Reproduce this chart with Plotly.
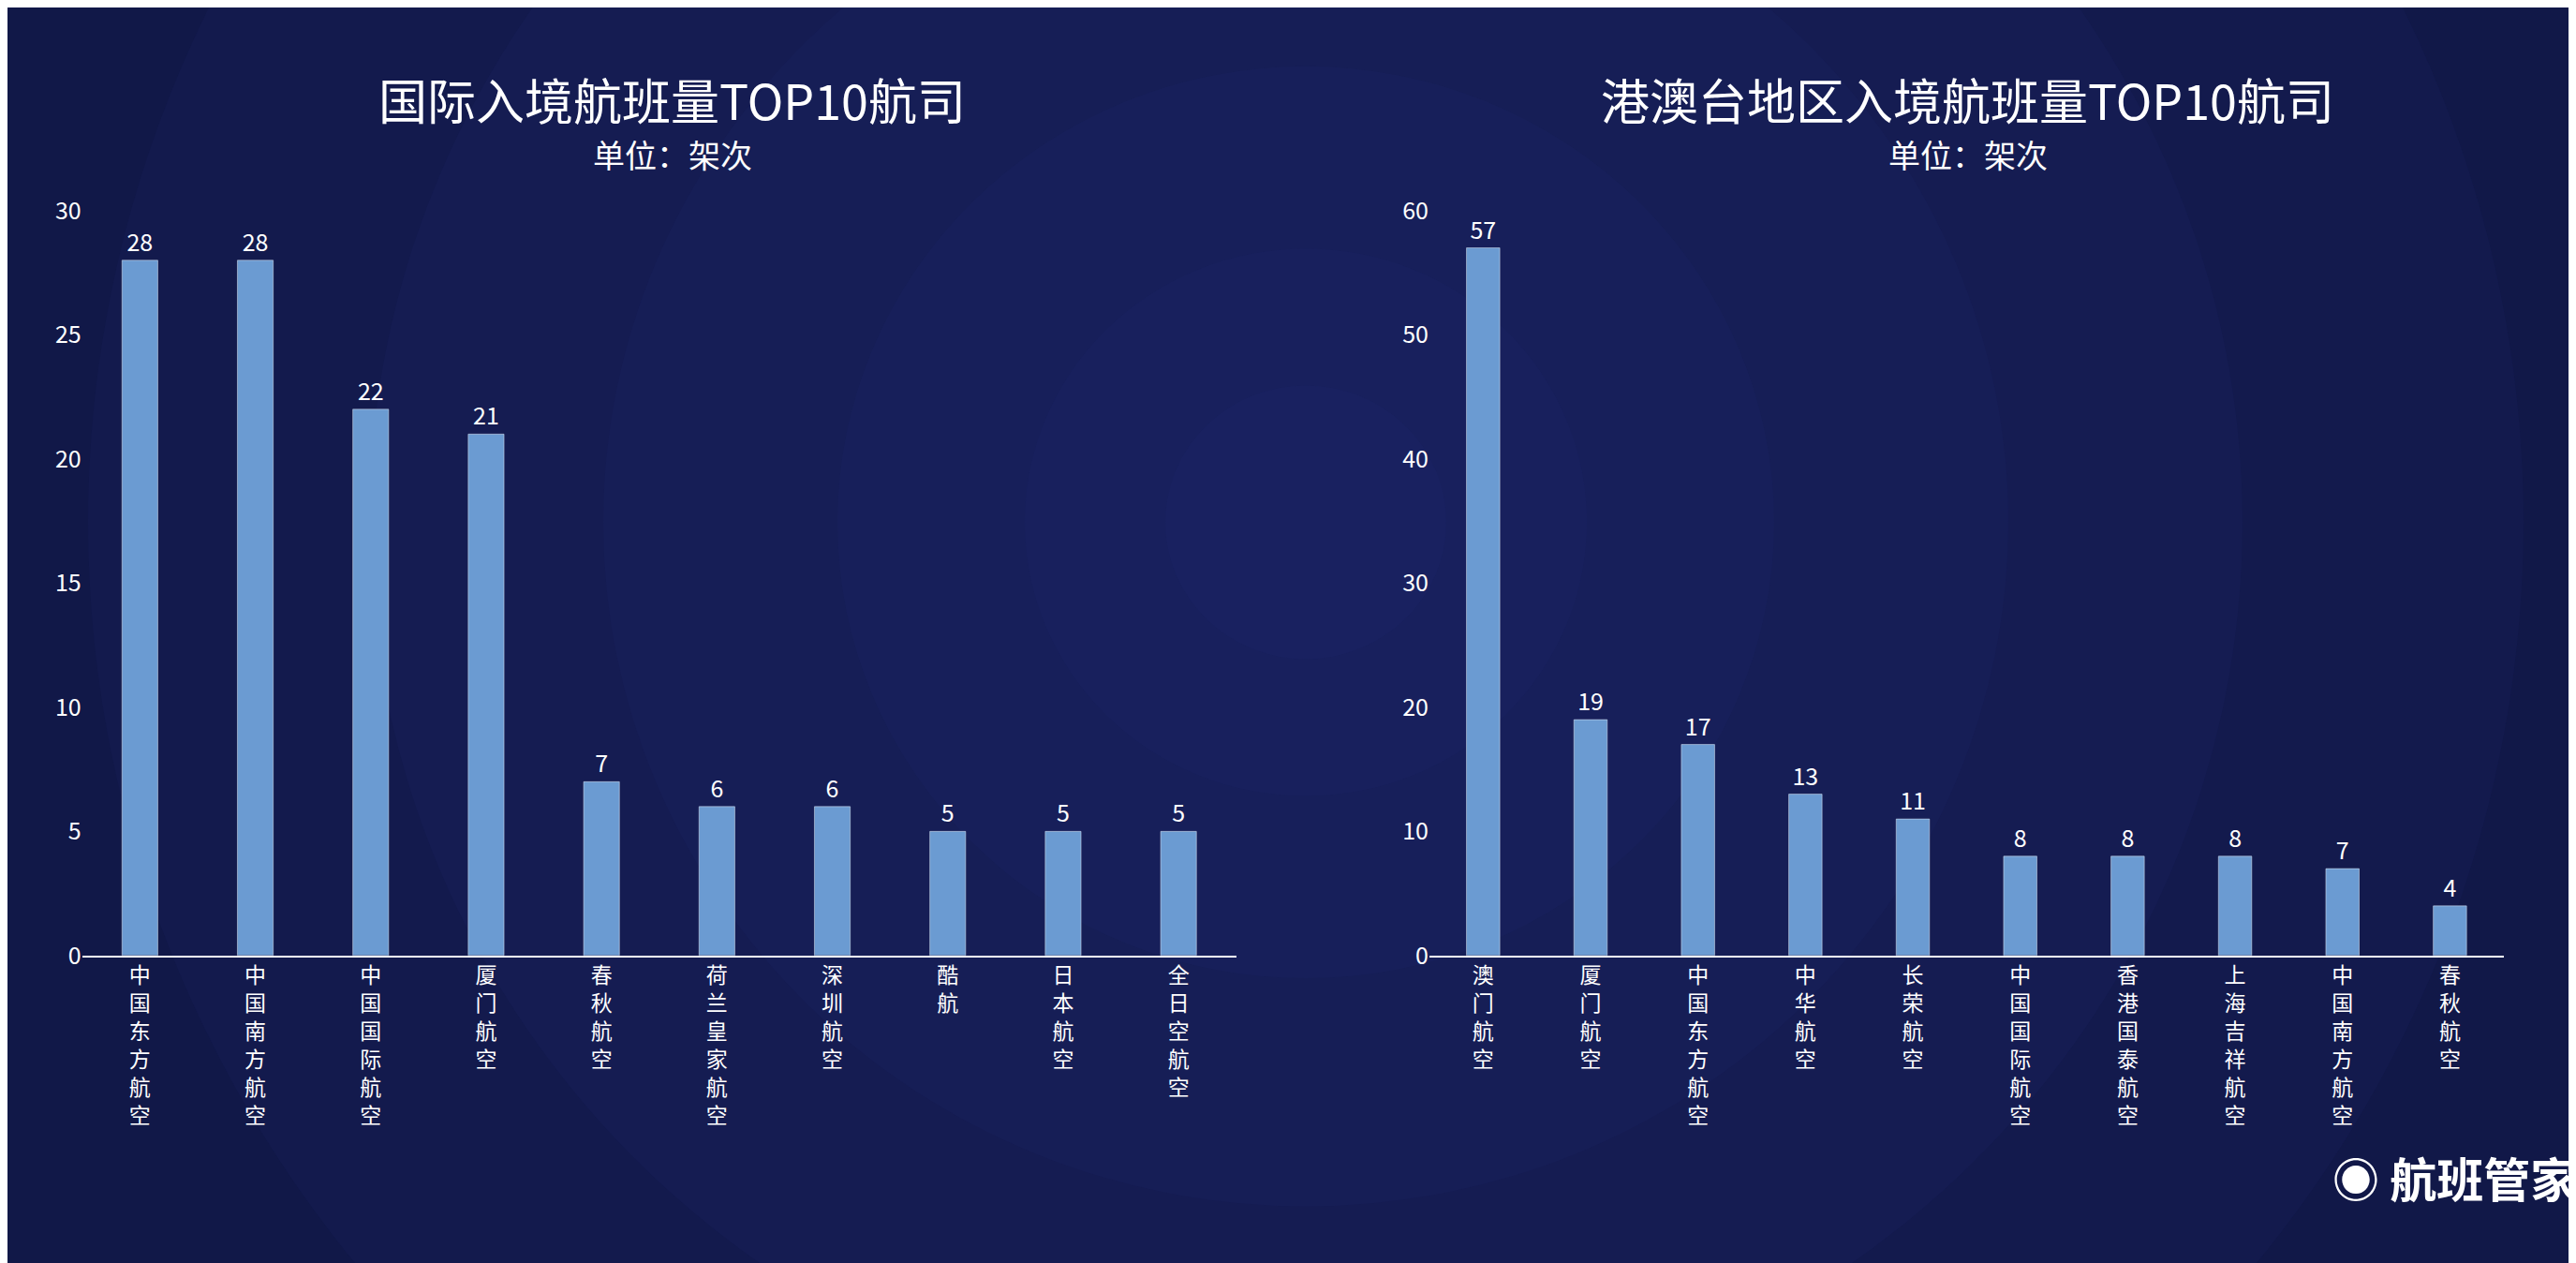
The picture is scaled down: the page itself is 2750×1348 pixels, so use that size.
import plotly.graph_objects as go

intl_airlines = ["中国东方航空", "中国南方航空", "中国国际航空", "厦门航空", "春秋航空",
                 "荷兰皇家航空", "深圳航空", "酷航", "日本航空", "全日空航空"]
intl_flights = [28, 28, 22, 21, 7, 6, 6, 5, 5, 5]

hmt_airlines = ["澳门航空", "厦门航空", "中国东方航空", "中华航空", "长荣航空",
                "中国国际航空", "香港国泰航空", "上海吉祥航空", "中国南方航空", "春秋航空"]
hmt_flights = [57, 19, 17, 13, 11, 8, 8, 8, 7, 4]

FONT = "Noto Sans CJK SC"
BAR = "#6b9bd2"


def vertical(s):
    return "<br>".join(s)


fig = go.Figure()
fig.add_trace(go.Bar(x=[vertical(a) for a in intl_airlines], y=intl_flights,
                     text=intl_flights, textposition="outside", marker_color=BAR,
                     textfont=dict(color="white", size=25), cliponaxis=False,
                     xaxis="x", yaxis="y"))
fig.add_trace(go.Bar(x=[vertical(a) for a in hmt_airlines], y=hmt_flights,
                     text=hmt_flights, textposition="outside", marker_color=BAR,
                     textfont=dict(color="white", size=25), cliponaxis=False,
                     xaxis="x2", yaxis="y2"))

axis_x = dict(showgrid=False, showline=True, linecolor="white", linewidth=2,
              tickfont=dict(color="white", size=23), ticks="", tickangle=0)
axis_y = dict(showgrid=False, zeroline=False, showline=False,
              tickfont=dict(color="white", size=25), ticks="")

# radial glow in the background
shapes = []
for r in [1300, 1000, 750, 500, 300, 150]:
    shapes.append(dict(type="circle", xref="paper", yref="paper",
                       x0=(1386 - r) / 2750, x1=(1386 + r) / 2750,
                       y0=(804 - r) / 1348, y1=(804 + r) / 1348,
                       fillcolor="rgba(35,50,130,0.10)", line_width=0, layer="below"))

fig.update_layout(
    width=2750, height=1348,
    margin=dict(l=0, r=0, t=0, b=0),
    paper_bgcolor="#111848", plot_bgcolor="rgba(0,0,0,0)",
    font=dict(family=FONT, color="white"),
    showlegend=False, bargap=0.69,
    shapes=shapes,
    xaxis=dict(domain=[0.029, 0.477], anchor="y", **axis_x),
    yaxis=dict(domain=[0.244, 0.85], range=[0, 30], dtick=5, anchor="x", **axis_y),
    xaxis2=dict(domain=[0.552, 0.969], anchor="y2", **axis_x),
    yaxis2=dict(domain=[0.244, 0.85], range=[0, 60], dtick=10, anchor="x2", **axis_y),
    annotations=[
        dict(text="国际入境航班量TOP10航司", x=0.258, y=1 - 80 / 1348, xref="paper", yref="paper",
             xanchor="center", yanchor="middle", showarrow=False, font=dict(size=52, color="white")),
        dict(text="单位：架次", x=0.258, y=1 - 140 / 1348, xref="paper", yref="paper",
             xanchor="center", yanchor="middle", showarrow=False, font=dict(size=34, color="white")),
        dict(text="港澳台地区入境航班量TOP10航司", x=0.761, y=1 - 80 / 1348, xref="paper", yref="paper",
             xanchor="center", yanchor="middle", showarrow=False, font=dict(size=52, color="white")),
        dict(text="单位：架次", x=0.761, y=1 - 140 / 1348, xref="paper", yref="paper",
             xanchor="center", yanchor="middle", showarrow=False, font=dict(size=34, color="white")),
        dict(text="<b>◉ 航班管家</b>", x=0.998, y=1 - 1262 / 1348, xref="paper", yref="paper",
             xanchor="right", yanchor="middle", showarrow=False, font=dict(size=50, color="white")),
    ],
)

fig.write_html("out.html")
